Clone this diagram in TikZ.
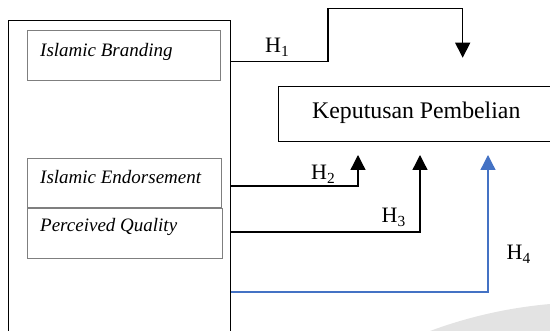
\documentclass[tikz,border=0pt]{standalone}
\usepackage{fontspec}
\setmainfont{Liberation Serif}
\usetikzlibrary{arrows.meta}
\definecolor{hblue}{HTML}{4472C4}
\definecolor{boxgray}{HTML}{7F7F7F}
\begin{document}
\begin{tikzpicture}[x=1pt,y=-1pt,
  outerbox/.style={draw=black,line width=1.3pt,anchor=north west,inner sep=0pt},
  varbox/.style={draw=boxgray,line width=1pt,anchor=north west,inner sep=0pt},
  vartext/.style={anchor=base west,inner sep=0pt,font=\fontsize{19}{22}\selectfont\itshape},
  htext/.style={anchor=base west,inner sep=0pt,font=\fontsize{22}{26}\selectfont},
  conn/.style={line width=1.3pt,-{Triangle[width=15pt,length=15pt]}},
]
\useasboundingbox (0,0) rectangle (550,331);
\clip (0,0) rectangle (550,331);
% watermark swoosh
\fill[gray!22] (430,331) .. controls (465,318) and (505,308) .. (550,304) -- (550,331) -- cycle;
% outer box
\node[outerbox,minimum width=222pt,minimum height=340pt] (outer) at (8,20) {};
% variable boxes
\node[varbox,minimum width=193pt,minimum height=50pt] (ib) at (27,30.5) {};
\node[varbox,minimum width=194pt,minimum height=49pt] (ie) at (27,158) {};
\node[varbox,minimum width=195pt,minimum height=50pt] (pq) at (27,208) {};
\node[vartext] (ibt) at (40,56.3) {Islamic Branding};
\node[vartext] (iet) at (40,183.3) {Islamic Endorsement};
\node[vartext] (pqt) at (40,231.7) {Perceived Quality};
% dependent box
\node[outerbox,minimum width=300pt,minimum height=55pt] (kp) at (278,86) {};
\node[anchor=base west,inner sep=0pt,font=\fontsize{23.8}{28}\selectfont] (kpt) at (312,119) {Keputusan Pembelian};
% connector points
\coordinate (s1) at (outer.north east |- 0,61.5);
\coordinate (s2) at (outer.north east |- 0,186);
\coordinate (s3) at (outer.north east |- 0,232);
\coordinate (s4) at (outer.north east |- 0,292);
\coordinate (t1) at (462.7,57.7);
\coordinate (t2) at (358,155);
\coordinate (t3) at (420,155);
\coordinate (t4) at (488,155);
\draw[conn] (s1) -- (328,61.5) -- (328,8.5) -- (t1 |- 0,8.5) -- (t1);
\draw[conn] (s2) -| (t2);
\draw[conn] (s3) -| (t3);
\draw[conn,draw=hblue] (s4) -| (t4);
% labels
\node[htext] (h1) at (265,53) {H\textsubscript{1}};
\node[htext] (h2) at (311,180) {H\textsubscript{2}};
\node[htext] (h3) at (381.5,223) {H\textsubscript{3}};
\node[htext] (h4) at (506.5,260) {H\textsubscript{4}};
\end{tikzpicture}
\end{document}
